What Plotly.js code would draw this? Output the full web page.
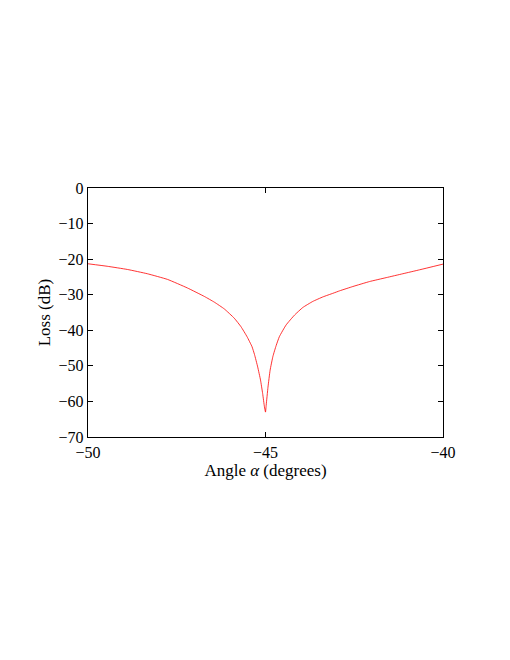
<!DOCTYPE html>
<html>
<head>
<meta charset="utf-8">
<script src="https://cdn.plot.ly/plotly-3.0.1.min.js"></script>
<style>
  html, body { margin: 0; padding: 0; background: #fff; }
  #chart { width: 510px; height: 660px; }
</style>
</head>
<body>
<div id="chart"></div>
<script>
// angle (degrees) and loss (dB)
const angle = [-50, -49.46, -48.89, -48.33, -47.76, -47.2, -46.72, -46.44, -46.16,
  -45.88, -45.69, -45.52, -45.38, -45.31, -45.22, -45.14, -45.08, -45.03, -45.0,
  -44.98, -44.93, -44.87, -44.79, -44.7, -44.61, -44.42, -44.18, -43.95, -43.67,
  -43.38, -43.1, -42.91, -42.54, -42.07, -41.6, -41.13, -40.66, -40];
const loss = [-21.3, -22.0, -22.9, -24.1, -25.7, -28.1, -30.5, -32.1, -34.0,
  -36.6, -39.0, -41.8, -44.6, -46.8, -50.3, -54.0, -57.8, -61.5, -63.0,
  -61.0, -56.0, -51.2, -47.3, -44.3, -41.8, -38.5, -35.7, -33.6, -31.9,
  -30.6, -29.6, -28.9, -27.7, -26.3, -25.2, -24.1, -23.0, -21.4];

const xTicks = [-50, -45, -40];
const yTicks = [0, -10, -20, -30, -40, -50, -60, -70];

const fontFamily = '"Liberation Serif", "DejaVu Serif", serif';

const trace = {
  x: angle,
  y: loss,
  mode: 'lines',
  line: { color: '#ff0000', width: 0.8, shape: 'spline', smoothing: 0.4 },
  hoverinfo: 'skip'
};

const axisCommon = {
  showgrid: false,
  zeroline: false,
  showline: true,
  linecolor: '#000',
  linewidth: 1.3,
  mirror: 'ticks',
  ticks: 'inside',
  ticklen: 5,
  tickwidth: 1,
  tickcolor: '#000',
  tickfont: { family: fontFamily, size: 16, color: '#000' }
};

const layout = {
  width: 510,
  height: 660,
  margin: { l: 88, r: 67, t: 188, b: 223 },
  paper_bgcolor: '#fff',
  plot_bgcolor: '#fff',
  showlegend: false,
  font: { family: fontFamily, color: '#000' },
  xaxis: Object.assign({}, axisCommon, {
    range: [-50, -40],
    tickvals: xTicks,
    title: { text: 'Angle <i>α</i> (degrees)', font: { family: fontFamily, size: 17, color: '#000' }, standoff: 1 }
  }),
  yaxis: Object.assign({}, axisCommon, {
    range: [-70, 0],
    tickvals: yTicks,
    title: { text: 'Loss (dB)', font: { family: fontFamily, size: 17, color: '#000' }, standoff: 3 }
  })
};

Plotly.newPlot('chart', [trace], layout, { staticPlot: true, displayModeBar: false });
</script>
</body>
</html>
